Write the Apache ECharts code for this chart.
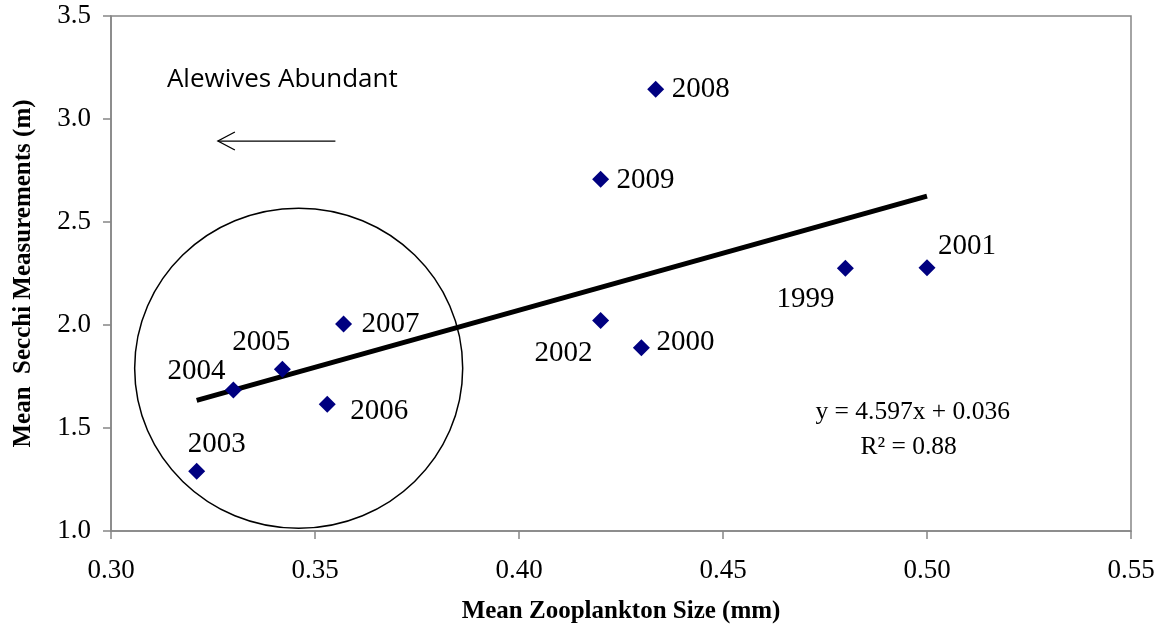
<!DOCTYPE html>
<html><head><meta charset="utf-8">
<script src="https://cdn.jsdelivr.net/npm/echarts@6/dist/echarts.min.js"></script>
<style>html,body{margin:0;padding:0;background:#fff}#c{width:1159px;height:629px}</style>
</head><body><div id="c"></div>
<script>
// ---- data ----
var years = ['1999','2000','2001','2002','2003','2004','2005','2006','2007','2008','2009'];
var zooSize = [0.480, 0.430, 0.500, 0.420, 0.321, 0.330, 0.342, 0.353, 0.357, 0.4335, 0.420];
var secchi  = [2.275, 1.890, 2.278, 2.022, 1.290, 1.685, 1.785, 1.615, 2.005, 3.145, 2.708];
var trendX = [0.321, 0.500];
var trendY = [1.634, 2.626];
var xTicks = ['0.30','0.35','0.40','0.45','0.50','0.55'];
var yTicks = ['1.0','1.5','2.0','2.5','3.0','3.5'];
var equationText = 'y = 4.597x + 0.036';
var r2Text = 'R² = 0.88';
var annotationText = 'Alewives Abundant';
// ellipse annotation (data coords): center and radii
var ellipseCenter = [0.346, 1.79];
var ellipseRadius = [0.0402, 0.777];
// arrow annotation (data coords)
var arrowFrom = [0.3550, 2.893];
var arrowTo = [0.3262, 2.893];

// label layout (pixel offsets from marker centre)
var labelOffsets = {
  '1999': [-40, 31], '2000': [44, -5], '2001': [40, -21], '2002': [-37, 33],
  '2003': [20, -27], '2004': [-37, -18], '2005': [-21, -27], '2006': [52, 7],
  '2007': [47, 0], '2008': [45, 0], '2009': [45, 1]
};

var serif = '"Liberation Serif","Times New Roman",serif';
var pts = years.map(function (y, i) {
  return {
    value: [zooSize[i], secchi[i]],
    label: { offset: labelOffsets[y] }
  };
});

var chart = echarts.init(document.getElementById('c'));
var axisColor = '#868686';
chart.setOption({
  animation: false,
  grid: { left: 111, right: 28, top: 16, bottom: 98, show: true, borderColor: axisColor, borderWidth: 1.5,
          containLabel: false, outerBoundsMode: 'none' },
  xAxis: {
    type: 'value', min: 0.30, max: 0.55, interval: 0.05,
    name: 'Mean Zooplankton Size (mm)', nameLocation: 'middle', nameGap: 68,
    nameTextStyle: { fontFamily: serif, fontWeight: 'bold', fontSize: 25, color: '#000' },
    axisLine: { show: true, lineStyle: { color: axisColor, width: 1.5 } },
    axisTick: { show: true, length: 8, lineStyle: { color: axisColor, width: 1.5 } },
    splitLine: { show: false },
    axisLabel: { fontFamily: serif, fontSize: 27, color: '#000', margin: 26,
      formatter: function (v) { var i = Math.round((v - 0.30) / 0.05); return xTicks[i]; } }
  },
  yAxis: {
    type: 'value', min: 1.0, max: 3.5, interval: 0.5,
    name: 'Mean  Secchi Measurements (m)', nameLocation: 'middle', nameGap: 75,
    nameTextStyle: { fontFamily: serif, fontWeight: 'bold', fontSize: 25, color: '#000' },
    axisLine: { show: true, lineStyle: { color: axisColor, width: 1.5 } },
    axisTick: { show: true, length: 8, lineStyle: { color: axisColor, width: 1.5 } },
    splitLine: { show: false },
    axisLabel: { fontFamily: serif, fontSize: 27, color: '#000', margin: 20,
      formatter: function (v) { var i = Math.round((v - 1.0) / 0.5); return yTicks[i]; } }
  },
  series: [
    {
      type: 'line', data: trendX.map(function (x, i) { return [x, trendY[i]]; }),
      symbol: 'none', lineStyle: { color: '#000', width: 5 }, z: 2, silent: true
    },
    {
      type: 'scatter', data: pts, symbol: 'diamond', symbolSize: [17, 17],
      itemStyle: { color: '#000080', opacity: 1 }, z: 3,
      label: {
        show: true, position: 'inside', fontFamily: serif, fontSize: 29, color: '#000',
        formatter: function (p) { return years[p.dataIndex]; }
      }
    }
  ]
});

function px(p) { return chart.convertToPixel({ gridIndex: 0 }, p); }
var c = px(ellipseCenter);
var ex = px([ellipseCenter[0] + ellipseRadius[0], ellipseCenter[1]]);
var ey = px([ellipseCenter[0], ellipseCenter[1] + ellipseRadius[1]]);
var rx = Math.abs(ex[0] - c[0]), ry = Math.abs(c[1] - ey[1]);
var a0 = px(arrowFrom), a1 = px(arrowTo);
var eqPos = px([0.4965, 1.578]);
var r2Pos = px([0.4955, 1.408]);
var txtPos = px([0.3137, 3.192]);

chart.setOption({
  graphic: [
    { type: 'ellipse', shape: { cx: c[0], cy: c[1], rx: rx, ry: ry },
      style: { fill: 'none', stroke: '#000', lineWidth: 1.5 }, z: 1, silent: true },
    { type: 'line', shape: { x1: a0[0], y1: a0[1], x2: a1[0], y2: a1[1] },
      style: { stroke: '#000', lineWidth: 1.3 }, silent: true },
    { type: 'polyline', shape: { points: [[a1[0] + 17, a1[1] - 9], [a1[0], a1[1]], [a1[0] + 17, a1[1] + 9]] },
      style: { stroke: '#000', lineWidth: 1.3, fill: 'none' }, silent: true },
    { type: 'text', x: txtPos[0], y: txtPos[1],
      style: { text: annotationText, font: '26px "Open Sans", sans-serif', fill: '#000', textAlign: 'left', textVerticalAlign: 'middle' } },
    { type: 'text', x: eqPos[0], y: eqPos[1],
      style: { text: equationText, font: '25.5px ' + serif, fill: '#000', textAlign: 'center', textVerticalAlign: 'middle' } },
    { type: 'text', x: r2Pos[0], y: r2Pos[1],
      style: { text: r2Text, font: '25.5px ' + serif, fill: '#000', textAlign: 'center', textVerticalAlign: 'middle' } }
  ]
});
</script></body></html>
